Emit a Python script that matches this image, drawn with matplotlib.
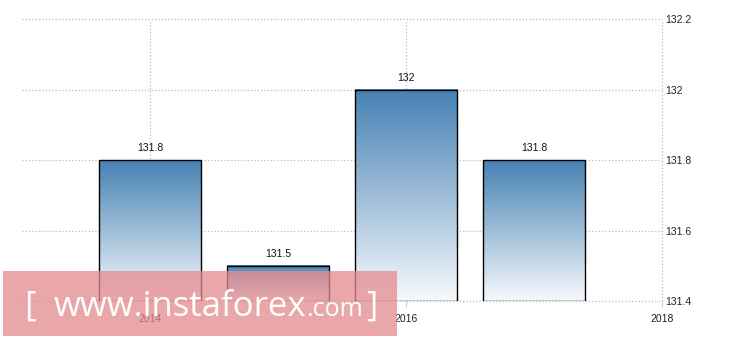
import numpy as np
import matplotlib
matplotlib.use('Agg')
import matplotlib.pyplot as plt
from matplotlib.colors import LinearSegmentedColormap
from matplotlib.patches import Rectangle

years = [2014, 2015, 2016, 2017]
values = [131.8, 131.5, 132.0, 131.8]
value_labels = ['131.8', '131.5', '132', '131.8']
x_ticks = [2014, 2016, 2018]
y_ticks = [131.4, 131.6, 131.8, 132.0, 132.2]
y_tick_labels = ['131.4', '131.6', '131.8', '132', '132.2']

W, H = 730, 340
fig = plt.figure(figsize=(W / 100, H / 100), dpi=100)
ax = fig.add_axes([22 / W, 1 - 301 / H, (662 - 22) / W, (301 - 19.5) / H])

base = 131.4
width = 0.8
cmap = LinearSegmentedColormap.from_list('grad', ['#f7f9fc', '#4682b4'])
grad = np.linspace(0, 1, 256).reshape(-1, 1)

for x, v in zip(years, values):
    ax.imshow(grad, cmap=cmap, origin='lower', aspect='auto',
              extent=(x - width / 2, x + width / 2, base, v), zorder=2)
ax.bar(years, [v - base for v in values], width=width, bottom=base,
       fill=False, edgecolor='black', linewidth=1, zorder=3)

for x, v, lab in zip(years, values, value_labels):
    ax.text(x, v + 0.02, lab, ha='center', va='bottom', fontsize=7.5,
            family='Liberation Sans', color='#111111', zorder=4)

ax.set_xlim(2013, 2018)
ax.set_ylim(131.4, 132.2)
ax.set_xticks(x_ticks)
ax.set_xticklabels([str(t) for t in x_ticks], family='Liberation Sans', fontsize=7.5, color='#222222')
ax.yaxis.tick_right()
ax.set_yticks(y_ticks)
ax.set_yticklabels(y_tick_labels, family='Liberation Sans', fontsize=7.5, color='#222233')
ax.tick_params(axis='y', length=0, pad=2)
ax.tick_params(axis='x', length=4, color='#cccccc', pad=5)
ax.grid(True, linestyle=':', color='#bbbbbb', linewidth=0.9, zorder=0)
for gl in ax.get_xgridlines() + ax.get_ygridlines():
    gl.set_clip_on(False)
ax.set_axisbelow(True)
for s in ax.spines.values():
    s.set_visible(False)

# watermark
fig.patches.append(Rectangle((3 / W, 1 - 336 / H), 394 / W, 65 / H, transform=fig.transFigure,
                             facecolor='#e48a8e', alpha=0.75, edgecolor='none', zorder=10))
wm = dict(color='white', family='Open Sans', va='baseline', zorder=11)
yb = 1 - 316 / H
fig.text(24 / W, yb, '[', fontsize=25, **wm)
t1 = fig.text(54 / W, yb, 'www.instaforex', fontsize=25, **wm)
fig.canvas.draw()
ext = t1.get_window_extent()
fig.text(ext.x1 / W, yb, '.com', fontsize=18, **wm)
fig.text(366 / W, yb, ']', fontsize=25, **wm)

fig.savefig('out.png', dpi=100)
